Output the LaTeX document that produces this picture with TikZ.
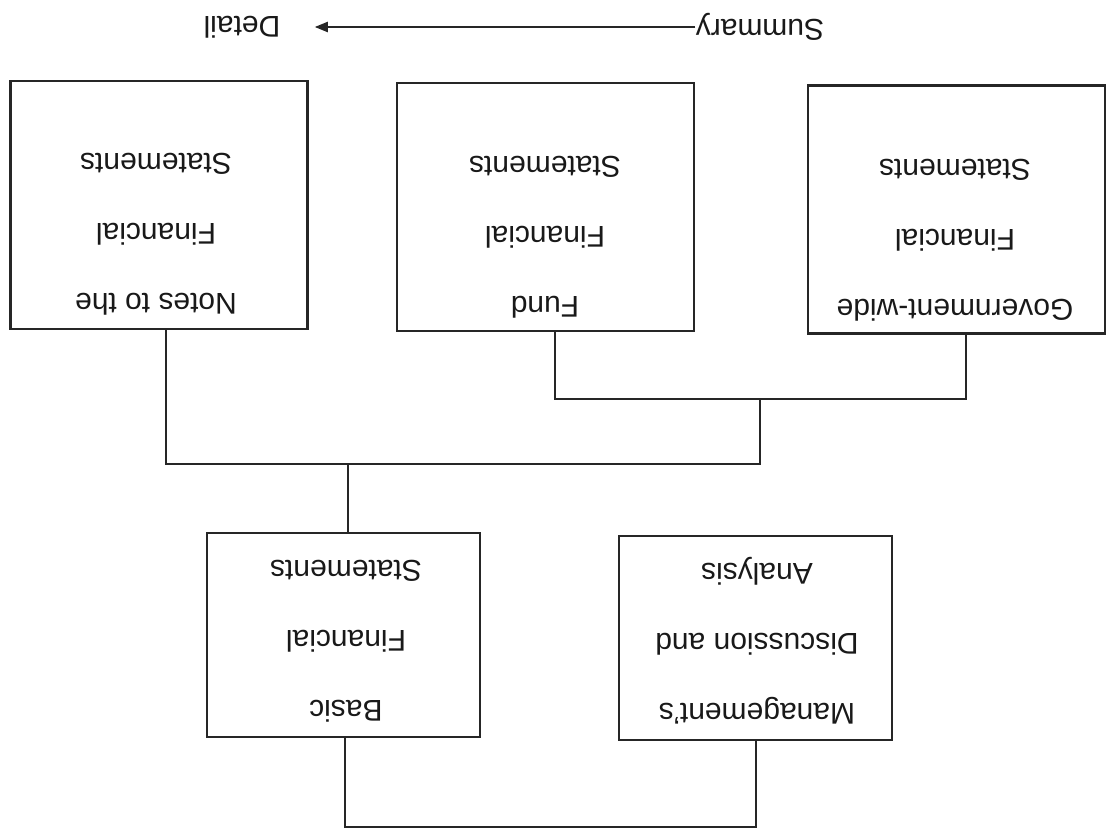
\documentclass[tikz,border=0pt]{standalone}
\usepackage{fontspec}
\setmainfont{Liberation Sans}
\usetikzlibrary{arrows.meta}
\begin{document}
\begin{tikzpicture}[x=0.5pt,y=-0.5pt,
  box/.style={draw=black!85, line width=1.2pt, inner sep=0pt},
  wide/.style={minimum width=148.5pt, minimum height=124pt},
  small/.style={minimum width=136.5pt, minimum height=102pt},
  label/.style={rotate=180, align=center, inner sep=0pt, text=black!90,
    font=\fontsize{15}{35}\selectfont},
  conn/.style={draw=black!85, line width=1pt}]
\useasboundingbox (0,0) rectangle (1110,831);
% boxes
\node[box,wide] (notes) at (159,205) {};
\node[box,wide] (fund) at (545.5,207) {};
\node[box,wide] (gov) at (956.5,209.5) {};
\node[box,small] (basic) at (343.5,635) {};
\node[box,small] (mgmt) at (755.5,638) {};
% texts
\node[label] (tnotes) at (156,234) {Notes to the\\Financial\\Statements};
\node[label] (tfund) at (545,237) {Fund\\Financial\\Statements};
\node[label] (tgov) at (955,240) {Government-wide\\Financial\\Statements};
\node[label] (tbasic) at (346,641) {Basic\\Financial\\Statements};
\node[label] (tmgmt) at (757,641) {Management's\\Discussion and\\Analysis};
% summary / detail
\node[label] (summary) at (760,27) {Summary};
\node[label] (detail) at (242,27) {Detail};
\draw[conn,-{Triangle[length=6.5pt,width=5pt]}] (summary.east) -- ([xshift=17pt]detail.west);
% connectors
\coordinate (j1) at (760,399);
\coordinate (j2) at (348,464);
\coordinate (j3) at (550,827);
\draw[conn] ([xshift=4.75pt]fund.south) |- (j1) -| ([xshift=4.75pt]gov.south);
\draw[conn] (j1) |- (j2) -| ([xshift=3.5pt]notes.south);
\draw[conn] (j2) -- ([xshift=2.25pt]basic.north);
\draw[conn] ([xshift=0.75pt]basic.south) |- (j3) -| (mgmt.south);
\end{tikzpicture}
\end{document}
